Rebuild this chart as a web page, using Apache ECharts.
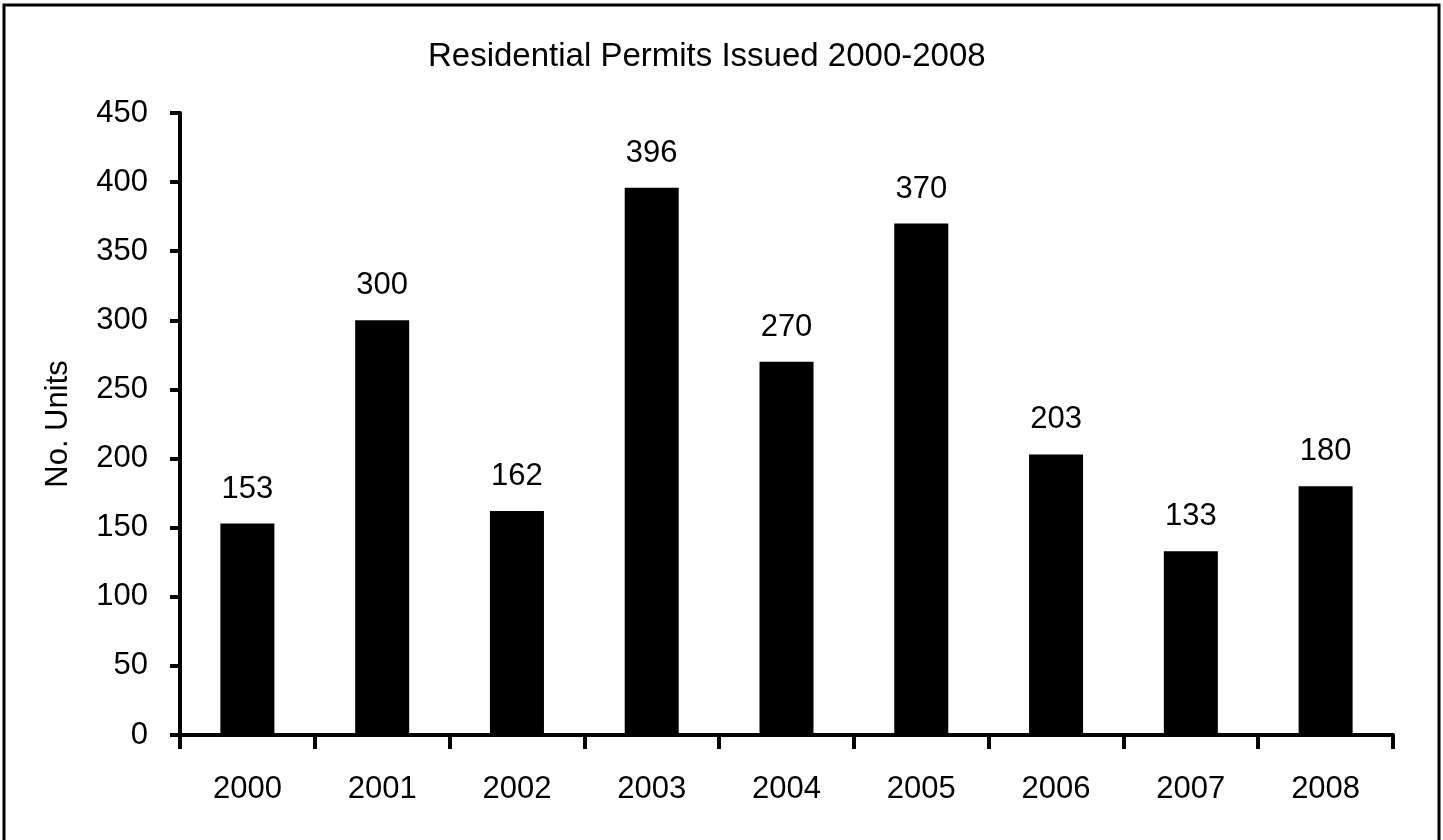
<!DOCTYPE html>
<html>
<head>
<meta charset="utf-8">
<script src="https://cdn.jsdelivr.net/npm/echarts@6/dist/echarts.min.js"></script>
<style>
html,body{margin:0;padding:0;background:#fff;}
#chart{width:1443px;height:840px;}
</style>
</head>
<body>
<div id="chart"></div>
<script>
const titleText = 'Residential Permits Issued 2000-2008';
const categories = ['2000','2001','2002','2003','2004','2005','2006','2007','2008'];
const permits = [153, 300, 162, 396, 270, 370, 203, 133, 180];
const yAxisName = 'No. Units';

const FONT = '"Liberation Sans", Arial, sans-serif';
const chart = echarts.init(document.getElementById('chart'), null, {renderer: 'canvas'});
chart.setOption({
  animation: false,
  backgroundColor: '#fff',
  textStyle: {fontFamily: FONT},
  graphic: [{
    type: 'rect',
    shape: {x: 4, y: 5, width: 1435, height: 860},
    style: {fill: 'none', stroke: '#000', lineWidth: 3},
    silent: true
  }],
  title: {
    text: titleText,
    left: 423,
    top: 35,
    textStyle: {fontFamily: FONT, fontSize: 33, fontWeight: 'normal', color: '#000'}
  },
  grid: {left: 180, right: 50, top: 113, bottom: 105, containLabel: false},
  xAxis: {
    type: 'category',
    data: categories,
    axisLine: {show: true, lineStyle: {color: '#000', width: 4}},
    axisTick: {show: true, length: 14, lineStyle: {color: '#000', width: 4}},
    axisLabel: {color: '#000', fontSize: 31, fontFamily: FONT, margin: 39},
    splitLine: {show: false}
  },
  yAxis: {
    type: 'value',
    min: 0,
    max: 450,
    interval: 50,
    name: yAxisName,
    nameLocation: 'middle',
    nameGap: 106,
    nameTextStyle: {color: '#000', fontSize: 31, fontFamily: FONT},
    axisLine: {show: true, lineStyle: {color: '#000', width: 4}},
    axisTick: {show: true, inside: false, length: 10, lineStyle: {color: '#000', width: 4}},
    axisLabel: {color: '#000', fontSize: 31, fontFamily: FONT, margin: 32},
    splitLine: {show: false}
  },
  series: [{
    type: 'bar',
    data: permits,
    barWidth: 54,
    itemStyle: {color: '#000'},
    label: {show: true, position: 'top', distance: 19, color: '#000', fontSize: 31, fontFamily: FONT}
  }]
});
</script>
</body>
</html>
